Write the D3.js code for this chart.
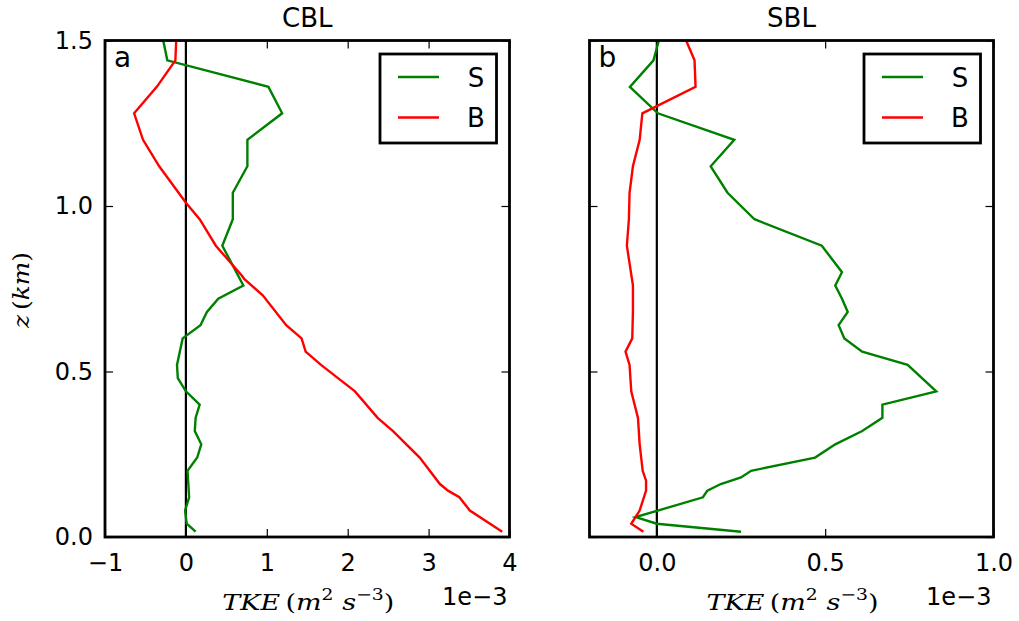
<!DOCTYPE html>
<html>
<head>
<meta charset="utf-8">
<script src="https://cdn.jsdelivr.net/npm/d3@7"></script>
<style>
  body { margin: 0; background: #fff; }
  text { font-family: "DejaVu Sans", sans-serif; fill: #000; }
  .math { font-family: "DejaVu Serif", "Liberation Serif", serif; }
</style>
</head>
<body>
<svg id="chart" width="1019" height="621"></svg>
<script>
// heights (km) and TKE values (x 1e-3 m2 s-3)
const zSCbl = [1.50, 1.44, 1.36, 1.28, 1.20, 1.12, 1.04, 0.96, 0.88, 0.76, 0.72, 0.68, 0.64, 0.60, 0.52, 0.48, 0.44, 0.40, 0.36, 0.32, 0.28, 0.24, 0.20, 0.12, 0.08, 0.04, 0.016];
const tkeSCbl = [-0.28, -0.23, 1.02, 1.19, 0.76, 0.76, 0.58, 0.58, 0.45, 0.71, 0.40, 0.26, 0.18, -0.04, -0.11, -0.10, 0.00, 0.17, 0.12, 0.11, 0.19, 0.14, 0.02, 0.04, -0.01, 0.01, 0.12];

const zBCbl = [1.50, 1.44, 1.36, 1.28, 1.20, 1.12, 1.01, 0.96, 0.88, 0.79, 0.78, 0.73, 0.64, 0.60, 0.56, 0.52, 0.48, 0.44, 0.36, 0.32, 0.24, 0.16, 0.14, 0.12, 0.08, 0.016];
const tkeBCbl = [-0.12, -0.13, -0.36, -0.64, -0.53, -0.33, 0.00, 0.17, 0.37, 0.69, 0.72, 0.95, 1.24, 1.43, 1.48, 1.67, 1.88, 2.09, 2.37, 2.56, 2.89, 3.14, 3.24, 3.38, 3.51, 3.91];

const zSSbl = [1.50, 1.44, 1.36, 1.28, 1.20, 1.12, 1.04, 0.96, 0.88, 0.80, 0.76, 0.72, 0.68, 0.64, 0.60, 0.56, 0.52, 0.44, 0.40, 0.36, 0.32, 0.28, 0.24, 0.20, 0.18, 0.16, 0.14, 0.12, 0.06, 0.04, 0.016];
const tkeSSbl = [0.006, -0.01, -0.08, 0.003, 0.23, 0.16, 0.21, 0.29, 0.49, 0.55, 0.53, 0.55, 0.567, 0.54, 0.557, 0.61, 0.745, 0.83, 0.67, 0.67, 0.61, 0.53, 0.47, 0.28, 0.25, 0.19, 0.15, 0.137, -0.063, 0.0, 0.25];

const zBSbl = [1.50, 1.44, 1.36, 1.28, 1.20, 1.12, 1.04, 0.96, 0.88, 0.76, 0.68, 0.60, 0.56, 0.52, 0.44, 0.36, 0.28, 0.20, 0.17, 0.14, 0.08, 0.04, 0.016];
const tkeBSbl = [0.087, 0.112, 0.115, -0.043, -0.051, -0.071, -0.081, -0.083, -0.089, -0.071, -0.071, -0.073, -0.093, -0.081, -0.076, -0.056, -0.051, -0.042, -0.032, -0.032, -0.051, -0.076, -0.04];

const cblTicks = [-1, 0, 1, 2, 3, 4];
const sblTicks = [0, 0.5, 1.0];
const zTicks = [0, 0.5, 1.0, 1.5];
const seriesNames = ['S', 'B'];
const seriesColors = ['#008000', '#ff0000'];

const svg = d3.select('#chart');
const plotTop = 40.5, plotBottom = 537;

const panels = [
  { title: 'CBL', tag: 'a', left: 105, right: 509.5, domain: [-1, 4], ticks: cblTicks, fmt: d3.format('d'),
    series: [[zSCbl, tkeSCbl], [zBCbl, tkeBCbl]], yLabels: true },
  { title: 'SBL', tag: 'b', left: 589.5, right: 993.5, domain: [-0.2, 1.0], ticks: sblTicks, fmt: d3.format('.1f'),
    series: [[zSSbl, tkeSSbl], [zBSbl, tkeBSbl]], yLabels: false }
];

const y = d3.scaleLinear().domain([0, 1.5]).range([plotBottom, plotTop]);

// squeeze/stretch a math label horizontally so it spans the wanted width
function fitWidth(sel, want) {
  const w = sel.node().getComputedTextLength();
  return want / w;
}

panels.forEach((p, i) => {
  const x = d3.scaleLinear().domain(p.domain).range([p.left, p.right]);
  const g = svg.append('g');

  g.append('clipPath').attr('id', 'clip' + i)
    .append('rect').attr('x', p.left).attr('y', plotTop).attr('width', p.right - p.left).attr('height', plotBottom - plotTop);

  // ticks (inward, all four sides)
  const bAxis = g.append('g').attr('transform', `translate(0,${plotBottom})`)
    .call(d3.axisBottom(x).tickValues(p.ticks).tickSize(-8).tickPadding(17).tickFormat(p.fmt));
  g.append('g').attr('transform', `translate(0,${plotTop})`)
    .call(d3.axisTop(x).tickValues(p.ticks).tickSize(-8).tickFormat(''));
  g.append('g').attr('transform', `translate(${p.left},0)`)
    .call(d3.axisLeft(y).tickValues(zTicks).tickSize(-8).tickPadding(12).tickFormat(p.yLabels ? d3.format('.1f') : ''));
  g.append('g').attr('transform', `translate(${p.right},0)`)
    .call(d3.axisRight(y).tickValues(zTicks).tickSize(-8).tickFormat(''));
  g.selectAll('.domain').remove();
  g.selectAll('.tick line').attr('stroke', '#000').attr('stroke-width', 1.2);
  g.selectAll('.tick text').attr('font-size', 24).attr('font-family', 'DejaVu Sans, sans-serif').attr('fill', '#000');
  bAxis.selectAll('.tick text').attr('dy', '0.71em');

  // zero line
  g.append('line').attr('x1', x(0)).attr('x2', x(0)).attr('y1', plotTop).attr('y2', plotBottom)
    .attr('stroke', '#000').attr('stroke-width', 2.2);

  // profiles
  const line = d3.line().x(d => x(d[1])).y(d => y(d[0]));
  p.series.forEach((s, k) => {
    const pts = s[0].map((z, j) => [z, s[1][j]]);
    g.append('path').datum(pts).attr('d', line)
      .attr('fill', 'none').attr('stroke', seriesColors[k]).attr('stroke-width', 2.4)
      .attr('stroke-linejoin', 'miter').attr('clip-path', `url(#clip${i})`);
  });

  // frame
  g.append('rect').attr('x', p.left).attr('y', plotTop).attr('width', p.right - p.left).attr('height', plotBottom - plotTop)
    .attr('fill', 'none').attr('stroke', '#000').attr('stroke-width', 2.8);

  // legend
  const lx = p.right - 129.5, ly = 54;
  g.append('rect').attr('x', lx).attr('y', ly).attr('width', 116.5).attr('height', 89)
    .attr('fill', '#fff').attr('stroke', '#000').attr('stroke-width', 2.8);
  seriesNames.forEach((n, k) => {
    const yy = ly + 23 + k * 40.5;
    g.append('line').attr('x1', lx + 18).attr('x2', lx + 59).attr('y1', yy).attr('y2', yy)
      .attr('stroke', seriesColors[k]).attr('stroke-width', 2.4);
    g.append('text').attr('x', lx + 96).attr('y', yy + 9.5).attr('text-anchor', 'middle')
      .attr('font-size', 26).text(n);
  });

  // panel tag and title
  g.append('text').attr('x', p.left + 9).attr('y', 67).attr('font-size', 28).text(p.tag);
  g.append('text').attr('x', (p.left + p.right) / 2).attr('y', 27).attr('text-anchor', 'middle')
    .attr('font-size', 26).text(p.title);

  // x label + offset text
  const cx = (p.left + p.right) / 2 + 1;
  const xl = g.append('text').attr('class', 'math').attr('x', 0).attr('y', 0)
    .attr('text-anchor', 'middle').attr('font-size', 23);
  xl.append('tspan').attr('font-style', 'italic').text('TKE');
  xl.append('tspan').text('\u2009(');
  xl.append('tspan').attr('font-style', 'italic').text('m');
  xl.append('tspan').attr('font-size', 16).attr('dy', -10).text('2');
  xl.append('tspan').attr('dy', 10).text('\u00a0');
  xl.append('tspan').attr('font-style', 'italic').text('s');
  xl.append('tspan').attr('font-size', 16).attr('dy', -10).text('\u22123');
  xl.append('tspan').attr('dy', 10).text(')');
  xl.attr('transform', `translate(${cx},610) scale(${fitWidth(xl, 172)},1)`);

  g.append('text').attr('x', p.right - 2).attr('y', 605).attr('text-anchor', 'end')
    .attr('font-size', 24).text('1e\u22123');
});

// y label
const yl = svg.append('text').attr('class', 'math')
  .attr('text-anchor', 'middle').attr('font-size', 23);
yl.append('tspan').attr('font-style', 'italic').text('z');
yl.append('tspan').text('\u2009(');
yl.append('tspan').attr('font-style', 'italic').text('km');
yl.append('tspan').text(')');
yl.attr('transform', `translate(29,290) rotate(-90) scale(${fitWidth(yl, 76)},1)`);
</script>
</body>
</html>
